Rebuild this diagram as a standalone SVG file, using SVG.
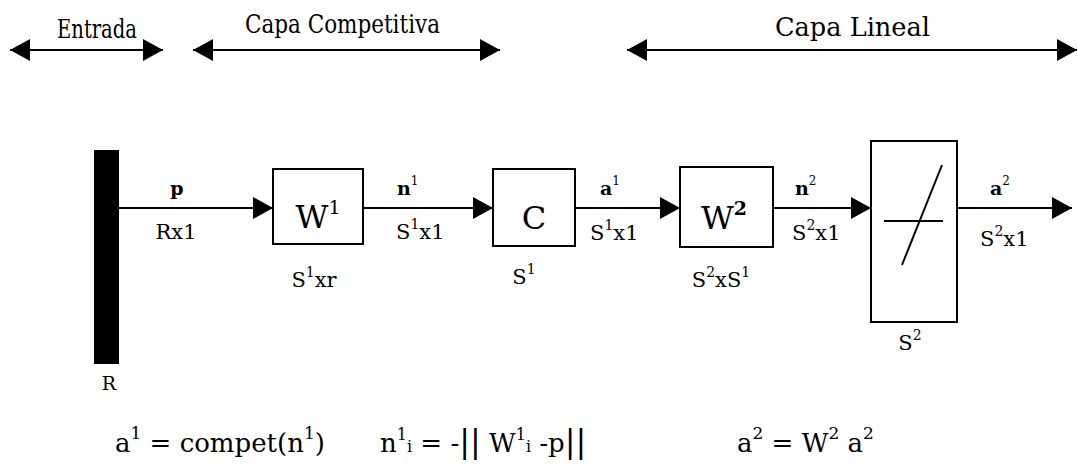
<svg xmlns="http://www.w3.org/2000/svg" width="1078" height="468" viewBox="0 0 1078 468">
<defs>
<style>
text{fill:#000;font-family:'DejaVu Serif','Liberation Serif',serif}
.hdr{font-size:26px}
.box{fill:#fff;stroke:#000;stroke-width:2}
.big{font-size:32px}
.lab{font-size:19px;font-weight:bold}
.dim{font-size:21px}
.frm{font-size:26px}
.ln{stroke:#000;stroke-width:2;fill:none}
</style>
<marker id="ah" markerUnits="userSpaceOnUse" markerWidth="20" markerHeight="22" viewBox="0 0 20 22" refX="20" refY="11" orient="auto-start-reverse">
<path d="M0,0 L20,11 L0,22 z" fill="#000"/>
</marker>
</defs>
<rect width="1078" height="468" fill="#fff"/>
<g id="spans">
<line class="ln" x1="10" y1="50" x2="163" y2="50" marker-start="url(#ah)" marker-end="url(#ah)"/>
<line class="ln" x1="193" y1="50" x2="500" y2="50" marker-start="url(#ah)" marker-end="url(#ah)"/>
<line class="ln" x1="627" y1="50" x2="1077" y2="50" marker-start="url(#ah)" marker-end="url(#ah)"/>
<text class="hdr" x="57" y="38" textLength="80" lengthAdjust="spacingAndGlyphs">Entrada</text>
<text class="hdr" x="245" y="33" textLength="195" lengthAdjust="spacingAndGlyphs">Capa Competitiva</text>
<text class="hdr" x="775" y="36" textLength="155" lengthAdjust="spacingAndGlyphs">Capa Lineal</text>
</g>
<g id="input">
<rect x="94" y="150" width="25" height="214" fill="#000"/>
<text x="109" y="390" font-size="19" text-anchor="middle">R</text>
</g>
<g id="w1">
<rect class="box" x="273" y="169" width="90" height="75"/>
<text class="big" x="318" y="228" text-anchor="middle">W<tspan font-size="19" dy="-14">1</tspan></text>
<text class="dim" x="314" y="287" text-anchor="middle">S<tspan font-size="14" dy="-10">1</tspan><tspan dy="10">xr</tspan></text>
</g>
<g id="c">
<rect class="box" x="493" y="169" width="82" height="77"/>
<text class="big" x="534" y="229" text-anchor="middle">C</text>
<text class="dim" x="524" y="284" text-anchor="middle">S<tspan font-size="14" dy="-10">1</tspan></text>
</g>
<g id="w2">
<rect class="box" x="680" y="167" width="93" height="80"/>
<text class="big" x="724" y="229" text-anchor="middle">W<tspan font-size="19" font-weight="bold" dy="-14">2</tspan></text>
<text class="dim" x="721" y="287" text-anchor="middle">S<tspan font-size="14" dy="-10">2</tspan><tspan dy="10">xS</tspan><tspan font-size="14" dy="-10">1</tspan></text>
</g>
<g id="linear">
<rect class="box" x="871" y="141" width="86" height="181"/>
<line class="ln" x1="942" y1="165" x2="902" y2="265"/>
<line class="ln" x1="884" y1="221" x2="943" y2="221"/>
<text class="dim" x="910" y="350" text-anchor="middle">S<tspan font-size="14" dy="-10">2</tspan></text>
</g>
<g id="connectors">
<line class="ln" x1="119" y1="208" x2="273" y2="208" marker-end="url(#ah)"/>
<line class="ln" x1="363" y1="208" x2="493" y2="208" marker-end="url(#ah)"/>
<line class="ln" x1="575" y1="208" x2="680" y2="208" marker-end="url(#ah)"/>
<line class="ln" x1="773" y1="208" x2="871" y2="208" marker-end="url(#ah)"/>
<line class="ln" x1="957" y1="208" x2="1072" y2="208" marker-end="url(#ah)"/>
</g>
<g id="labels">
<text class="lab" x="177" y="195" text-anchor="middle">p</text>
<text class="dim" x="176" y="239" text-anchor="middle">Rx1</text>
<text class="lab" x="397" y="195">n<tspan font-size="12" font-weight="normal" dy="-10">1</tspan></text>
<text class="dim" x="396" y="239">S<tspan font-size="14" dy="-10">1</tspan><tspan dy="10">x1</tspan></text>
<text class="lab" x="600" y="195">a<tspan font-size="12" font-weight="normal" dy="-10">1</tspan></text>
<text class="dim" x="590" y="240">S<tspan font-size="14" dy="-10">1</tspan><tspan dy="10">x1</tspan></text>
<text class="lab" x="795" y="195">n<tspan font-size="12" font-weight="normal" dy="-10">2</tspan></text>
<text class="dim" x="792" y="240">S<tspan font-size="14" dy="-10">2</tspan><tspan dy="10">x1</tspan></text>
<text class="lab" x="990" y="195">a<tspan font-size="12" font-weight="normal" dy="-10">2</tspan></text>
<text class="dim" x="980" y="246">S<tspan font-size="14" dy="-10">2</tspan><tspan dy="10">x1</tspan></text>
</g>
<g id="formulas">
<text class="frm" x="115" y="452">a<tspan font-size="17" dy="-13">1</tspan><tspan dy="13"> = compet(n</tspan><tspan font-size="17" dy="-13">1</tspan><tspan dy="13">)</tspan></text>
<text class="frm" x="380" y="452" font-size="25">n<tspan font-size="16" dy="-12">1</tspan><tspan font-size="16" dy="12">i</tspan> = -<tspan font-size="32">||</tspan> W<tspan font-size="16" dy="-12">1</tspan><tspan font-size="16" dy="12">i</tspan> -p<tspan font-size="32">||</tspan></text>
<text class="frm" x="737" y="452">a<tspan font-size="17" dy="-13">2</tspan><tspan dy="13"> = W</tspan><tspan font-size="17" dy="-13">2</tspan><tspan dy="13"> a</tspan><tspan font-size="17" dy="-13">2</tspan></text>
</g>
</svg>
